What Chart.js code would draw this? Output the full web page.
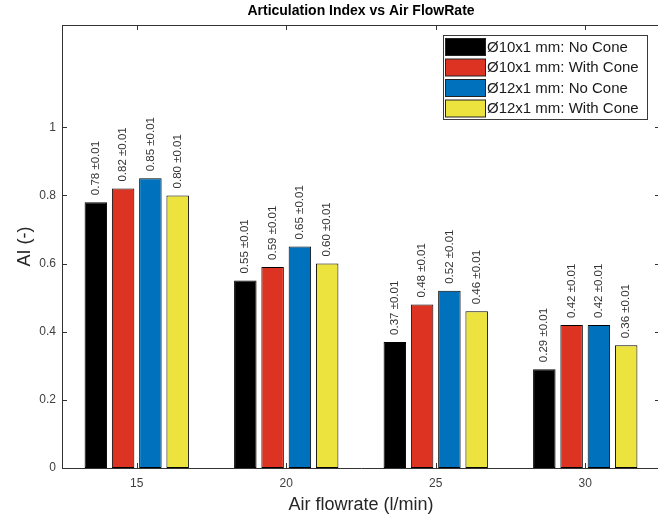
<!DOCTYPE html>
<html>
<head>
<meta charset="utf-8">
<script src="https://cdn.jsdelivr.net/npm/chart.js@4/dist/chart.umd.min.js"></script>
<style>
  html, body { margin: 0; padding: 0; overflow: hidden; background: #fff; }
  canvas { display: block; }
</style>
</head>
<body>
<canvas id="chart" width="662" height="518"></canvas>
<script>
// Air flow rates (l/min) on the x axis
const flowRates = ['15', '20', '25', '30'];

// Series names
const seriesNames = [
  'Ø10x1 mm: No Cone',
  'Ø10x1 mm: With Cone',
  'Ø12x1 mm: No Cone',
  'Ø12x1 mm: With Cone'
];

// Articulation index per flow rate
const ai10NoCone   = [0.78, 0.55, 0.37, 0.29];
const ai10WithCone = [0.82, 0.59, 0.48, 0.42];
const ai12NoCone   = [0.85, 0.65, 0.52, 0.42];
const ai12WithCone = [0.80, 0.60, 0.46, 0.36];

// Measurement uncertainty for every bar
const aiError = [0.01, 0.01, 0.01, 0.01];

// Y axis tick values
const yTicks = [0, 0.2, 0.4, 0.6, 0.8, 1];

const seriesValues = [ai10NoCone, ai10WithCone, ai12NoCone, ai12WithCone];
const seriesColors = ['#000000', '#DC3323', '#0072BD', '#EDE33E'];

const FONT = "'Liberation Sans', Arial, Helvetica, sans-serif";
const AXIS_COLOR = '#333333';
const TICK_LEN = 5;

// Title drawn centred over the plotting area
const titlePlugin = {
  id: 'plotTitle',
  afterDraw(chart) {
    const { ctx, chartArea } = chart;
    ctx.save();
    ctx.font = `bold 14px ${FONT}`;
    ctx.fillStyle = '#000';
    ctx.textAlign = 'center';
    ctx.textBaseline = 'middle';
    ctx.fillText('Articulation Index vs Air FlowRate', (chartArea.left + chartArea.right) / 2, 11);
    ctx.restore();
  }
};

// Box around the axes with inward tick marks on all four sides
const framePlugin = {
  id: 'axesFrame',
  afterDatasetsDraw(chart) {
    const { ctx, chartArea: a, scales } = chart;
    ctx.save();
    ctx.strokeStyle = AXIS_COLOR;
    ctx.lineWidth = 1;
    ctx.beginPath();
    ctx.moveTo(a.left, a.top + 0.5);
    ctx.lineTo(a.right, a.top + 0.5);
    ctx.moveTo(a.right - 0.5, a.top);
    ctx.lineTo(a.right - 0.5, a.bottom);
    scales.y.ticks.forEach(t => {
      if (t.value === 0) return;
      const y = Math.round(scales.y.getPixelForValue(t.value)) + 0.5;
      ctx.moveTo(a.left, y); ctx.lineTo(a.left + TICK_LEN, y);
      ctx.moveTo(a.right, y); ctx.lineTo(a.right - TICK_LEN, y);
    });
    flowRates.forEach((_, i) => {
      const x = Math.round(scales.x.getPixelForValue(i)) + 0.5;
      ctx.moveTo(x, a.bottom); ctx.lineTo(x, a.bottom - TICK_LEN);
      ctx.moveTo(x, a.top); ctx.lineTo(x, a.top + TICK_LEN);
    });
    ctx.stroke();
    ctx.restore();
  }
};

// Vertical value labels above each bar: "value ±error"
const valueLabelPlugin = {
  id: 'valueLabels',
  afterDatasetsDraw(chart) {
    const { ctx } = chart;
    ctx.save();
    ctx.font = `11.5px ${FONT}`;
    ctx.fillStyle = '#333';
    ctx.textAlign = 'left';
    ctx.textBaseline = 'middle';
    chart.data.datasets.forEach((ds, di) => {
      const meta = chart.getDatasetMeta(di);
      meta.data.forEach((bar, i) => {
        const v = ds.data[i];
        const text = `${v.toFixed(2)} ±${aiError[i].toFixed(2)}`;
        ctx.save();
        ctx.translate(bar.x, bar.y - 7);
        ctx.rotate(-Math.PI / 2);
        ctx.fillText(text, 0, 0);
        ctx.restore();
      });
    });
    ctx.restore();
  }
};

// Boxed legend in the upper right of the plot
const legendPlugin = {
  id: 'boxLegend',
  afterDraw(chart) {
    const { ctx } = chart;
    const x0 = 443, y0 = 35, w = 204, h = 84;
    const rowH = 20.5, patchW = 40, patchH = 17;
    ctx.save();
    ctx.fillStyle = '#fff';
    ctx.fillRect(x0, y0, w, h);
    ctx.strokeStyle = '#3a3a3a';
    ctx.lineWidth = 1;
    ctx.strokeRect(x0 + 0.5, y0 + 0.5, w, h);
    ctx.font = `15px ${FONT}`;
    ctx.textAlign = 'left';
    ctx.textBaseline = 'middle';
    chart.data.datasets.forEach((ds, i) => {
      const py = y0 + 3.5 + i * rowH;
      ctx.fillStyle = ds.backgroundColor;
      ctx.fillRect(x0 + 2.5, py, patchW, patchH);
      ctx.strokeStyle = '#222';
      ctx.strokeRect(x0 + 2.5, py, patchW, patchH);
      ctx.fillStyle = '#1a1a1a';
      ctx.fillText(ds.label, x0 + 44, py + patchH / 2 + 0.5);
    });
    ctx.restore();
  }
};

new Chart(document.getElementById('chart'), {
  type: 'bar',
  data: {
    labels: flowRates,
    datasets: seriesValues.map((vals, i) => ({
      label: seriesNames[i],
      data: vals,
      backgroundColor: seriesColors[i],
      borderColor: '#000',
      borderWidth: 1,
      borderSkipped: false,
      categoryPercentage: 0.73,
      barPercentage: 0.824
    }))
  },
  options: {
    responsive: false,
    animation: false,
    devicePixelRatio: 1,
    layout: { padding: { left: 0, right: 2, top: 25, bottom: 0 } },
    plugins: {
      legend: { display: false },
      title: { display: false },
      tooltip: { enabled: false }
    },
    scales: {
      x: {
        grid: { display: false, drawTicks: false },
        border: { display: true, color: AXIS_COLOR, width: 1 },
        ticks: { font: { family: FONT, size: 12 }, color: '#404040', padding: 8 },
        title: {
          display: true,
          text: 'Air flowrate (l/min)',
          font: { family: FONT, size: 18 },
          color: '#262626',
          padding: { top: 0, bottom: 2 }
        },
        afterFit(scale) { scale.height = 50; }
      },
      y: {
        min: 0,
        max: 1.3,
        grid: { display: false, drawTicks: false },
        border: { display: true, color: AXIS_COLOR, width: 1 },
        afterBuildTicks(scale) { scale.ticks = yTicks.map(v => ({ value: v })); },
        ticks: {
          font: { family: FONT, size: 12 },
          color: '#404040',
          padding: 6,
          callback: v => String(+Number(v).toFixed(1))
        },
        title: {
          display: true,
          text: 'AI (-)',
          font: { family: FONT, size: 18 },
          color: '#262626',
          padding: { top: 14, bottom: 0 }
        },
        afterFit(scale) { scale.width = 62; }
      }
    }
  },
  plugins: [framePlugin, valueLabelPlugin, legendPlugin, titlePlugin]
});
</script>
</body>
</html>
